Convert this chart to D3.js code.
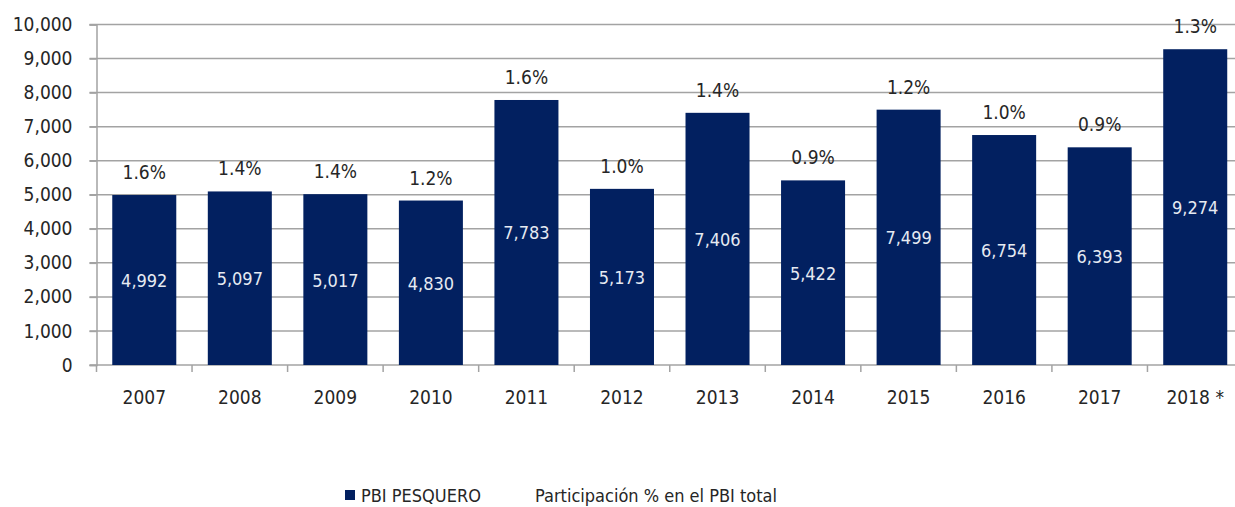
<!DOCTYPE html>
<html>
<head>
<meta charset="utf-8">
<script src="https://cdn.jsdelivr.net/npm/d3@7"></script>
<style>
  body { margin: 0; background: #fff; }
  svg text { font-family: "DejaVu Sans Condensed", "DejaVu Sans", sans-serif; font-stretch: condensed; }
</style>
</head>
<body>
<div id="chart"></div>
<script>
// datos
var years = ["2007", "2008", "2009", "2010", "2011", "2012", "2013", "2014", "2015", "2016", "2017", "2018 *"];
var pbiPesquero = [4992, 5097, 5017, 4830, 7783, 5173, 7406, 5422, 7499, 6754, 6393, 9274];
var participacion = [1.6, 1.4, 1.4, 1.2, 1.6, 1.0, 1.4, 0.9, 1.2, 1.0, 0.9, 1.3];
var yTicks = [0, 1000, 2000, 3000, 4000, 5000, 6000, 7000, 8000, 9000, 10000];

drawChart();

function drawChart() {
    var width = 1235
    var height = 507
    var left = 96.5, right = 1243, top = 24.5, bottom = 365

    var svg = d3.select("#chart")
        .append("svg")
        .attr("width", width)
        .attr("height", height);

    var x = d3.scaleBand()
        .domain(years)
        .range([left, right])
        .paddingInner(0.33)
        .paddingOuter(0.165);

    var y = d3.scaleLinear()
        .domain([0, 10000])
        .range([bottom, top]);

    var fmt = d3.format(",");

    //grid lines
    svg.append("g")
        .selectAll("line")
        .data(yTicks)
        .enter()
        .append("line")
        .attr("x1", left - 7)
        .attr("x2", width)
        .attr("y1", function(d) { return y(d); })
        .attr("y2", function(d) { return y(d); })
        .attr("stroke", "#a3a3a3")
        .attr("stroke-width", 1.5);

    //y axis
    var yAxis = svg.append("g")
        .attr("transform", "translate(" + left + ",0)")
        .call(d3.axisLeft(y).tickValues(yTicks).tickFormat(fmt).tickSize(7).tickPadding(17));
    yAxis.select(".domain").attr("stroke", "#a3a3a3").attr("stroke-width", 1.5);
    yAxis.selectAll(".tick line").attr("stroke", "#a3a3a3").attr("stroke-width", 1.5);
    yAxis.selectAll(".tick text")
        .attr("fill", "#262626")
        .style("font-size", "19px");

    //x axis tick marks on category boundaries
    var step = x.step();
    var bounds = years.map(function(d, i) { return left + i * step; });
    svg.append("g")
        .selectAll("line")
        .data(bounds)
        .enter()
        .append("line")
        .attr("x1", function(d) { return d; })
        .attr("x2", function(d) { return d; })
        .attr("y1", bottom)
        .attr("y2", bottom + 7)
        .attr("stroke", "#a3a3a3")
        .attr("stroke-width", 1.5);

    svg.append("g")
        .selectAll("text")
        .data(years)
        .enter()
        .append("text")
        .attr("x", function(d) { return x(d) + x.bandwidth() / 2; })
        .attr("y", 404)
        .attr("text-anchor", "middle")
        .attr("fill", "#262626")
        .style("font-size", "19px")
        .text(function(d) { return d; });

    //bars
    svg.append("g")
        .selectAll("rect")
        .data(pbiPesquero)
        .enter()
        .append("rect")
        .attr("x", function(d, i) { return x(years[i]); })
        .attr("width", x.bandwidth())
        .attr("y", function(d) { return y(d); })
        .attr("height", function(d) { return y(0) - y(d); })
        .attr("fill", "#022060");

    //values inside bars
    svg.append("g")
        .selectAll("text")
        .data(pbiPesquero)
        .enter()
        .append("text")
        .attr("x", function(d, i) { return x(years[i]) + x.bandwidth() / 2; })
        .attr("y", function(d) { return (y(d) + y(0)) / 2 + 7; })
        .attr("text-anchor", "middle")
        .attr("fill", "#e6eaf2")
        .style("font-size", "18px")
        .text(function(d) { return fmt(d); });

    //participation % above bars
    svg.append("g")
        .selectAll("text")
        .data(participacion)
        .enter()
        .append("text")
        .attr("x", function(d, i) { return x(years[i]) + x.bandwidth() / 2; })
        .attr("y", function(d, i) { return y(pbiPesquero[i]) - 16; })
        .attr("text-anchor", "middle")
        .attr("fill", "#262626")
        .style("font-size", "19px")
        .text(function(d) { return d.toFixed(1) + "%"; });

    //legend
    var legend = svg.append("g");
    legend.append("rect")
        .attr("x", 345)
        .attr("y", 490)
        .attr("width", 10)
        .attr("height", 10)
        .attr("fill", "#022060");
    legend.append("text")
        .attr("x", 361)
        .attr("y", 502)
        .attr("fill", "#262626")
        .style("font-size", "18px")
        .text("PBI PESQUERO");
    legend.append("text")
        .attr("x", 535)
        .attr("y", 502)
        .attr("fill", "#262626")
        .style("font-size", "18px")
        .text("Participación % en el PBI total");
}
</script>
</body>
</html>
